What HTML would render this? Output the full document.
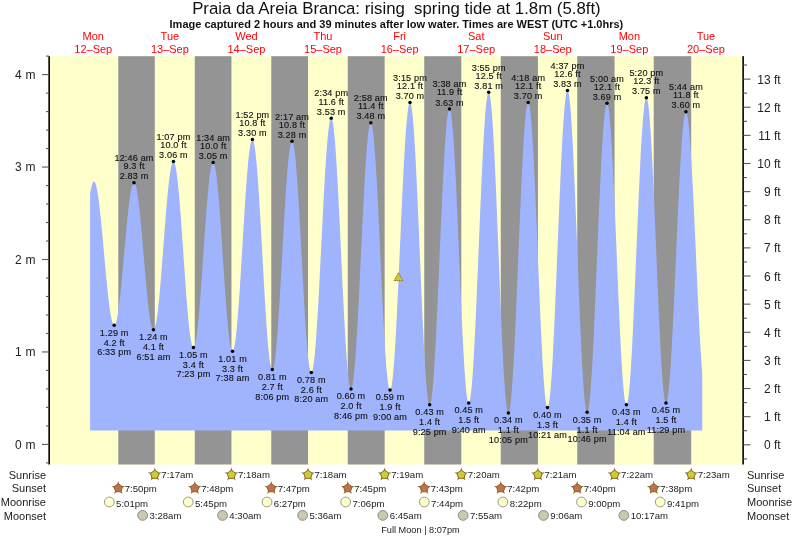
<!DOCTYPE html>
<html><head><meta charset="utf-8"><style>
html,body{margin:0;padding:0;background:#fff;width:793px;height:538px;overflow:hidden;}
svg{display:block;will-change:transform;font-family:"Liberation Sans",sans-serif;}
</style></head><body>
<svg width="793" height="538" viewBox="0 0 793 538" font-family="Liberation Sans, sans-serif">
<rect x="0" y="0" width="793" height="538" fill="#ffffff"/>
<rect x="49.8" y="56.2" width="692.80" height="408.30" fill="#ffffcc"/>
<rect x="118.28" y="56.2" width="36.53" height="408.30" fill="#949494"/>
<rect x="194.76" y="56.2" width="36.69" height="408.30" fill="#949494"/>
<rect x="271.28" y="56.2" width="36.75" height="408.30" fill="#949494"/>
<rect x="347.76" y="56.2" width="36.91" height="408.30" fill="#949494"/>
<rect x="424.23" y="56.2" width="37.07" height="408.30" fill="#949494"/>
<rect x="500.75" y="56.2" width="37.17" height="408.30" fill="#949494"/>
<rect x="577.23" y="56.2" width="37.33" height="408.30" fill="#949494"/>
<rect x="653.70" y="56.2" width="37.49" height="408.30" fill="#949494"/>
<path d="M90.10,430.5 L90.10,194.09 L90.63,190.91 L91.16,188.16 L91.70,185.86 L92.23,184.03 L92.76,182.69 L93.29,181.84 L93.82,181.49 L94.36,181.64 L94.89,182.27 L95.42,183.39 L95.95,184.99 L96.48,187.05 L97.01,189.56 L97.55,192.50 L98.08,195.86 L98.61,199.61 L99.14,203.72 L99.67,208.17 L100.21,212.93 L100.74,217.96 L101.27,223.24 L101.80,228.71 L102.33,234.36 L102.87,240.14 L103.40,246.00 L103.93,251.92 L104.46,257.84 L104.99,263.74 L105.52,269.56 L106.06,275.27 L106.59,280.84 L107.12,286.22 L107.65,291.37 L108.18,296.27 L108.72,300.87 L109.25,305.15 L109.78,309.08 L110.31,312.63 L110.84,315.78 L111.38,318.51 L111.91,320.79 L112.44,322.61 L112.97,323.96 L113.50,324.83 L114.03,325.22 L114.57,325.11 L115.10,324.50 L115.63,323.39 L116.16,321.79 L116.69,319.71 L117.23,317.16 L117.76,314.17 L118.29,310.75 L118.82,306.92 L119.35,302.73 L119.89,298.18 L120.42,293.33 L120.95,288.19 L121.48,282.82 L122.01,277.23 L122.55,271.49 L123.08,265.62 L123.61,259.67 L124.14,253.68 L124.67,247.69 L125.20,241.75 L125.74,235.89 L126.27,230.16 L126.80,224.61 L127.33,219.26 L127.86,214.16 L128.40,209.34 L128.93,204.84 L129.46,200.68 L129.99,196.91 L130.52,193.54 L131.06,190.60 L131.59,188.11 L132.12,186.09 L132.65,184.55 L133.18,183.50 L133.71,182.95 L134.25,182.91 L134.78,183.41 L135.31,184.45 L135.84,186.02 L136.37,188.11 L136.91,190.71 L137.44,193.79 L137.97,197.34 L138.50,201.32 L139.03,205.72 L139.57,210.48 L140.10,215.59 L140.63,221.00 L141.16,226.67 L141.69,232.56 L142.22,238.63 L142.76,244.82 L143.29,251.11 L143.82,257.43 L144.35,263.74 L144.88,270.00 L145.42,276.16 L145.95,282.18 L146.48,288.00 L147.01,293.58 L147.54,298.89 L148.08,303.89 L148.61,308.54 L149.14,312.79 L149.67,316.63 L150.20,320.03 L150.73,322.95 L151.27,325.38 L151.80,327.30 L152.33,328.69 L152.86,329.55 L153.39,329.86 L153.93,329.61 L154.46,328.78 L154.99,327.37 L155.52,325.39 L156.05,322.85 L156.59,319.77 L157.12,316.18 L157.65,312.09 L158.18,307.55 L158.71,302.57 L159.25,297.19 L159.78,291.45 L160.31,285.40 L160.84,279.07 L161.37,272.51 L161.90,265.76 L162.44,258.86 L162.97,251.88 L163.50,244.86 L164.03,237.84 L164.56,230.88 L165.10,224.02 L165.63,217.31 L166.16,210.80 L166.69,204.53 L167.22,198.55 L167.76,192.90 L168.29,187.62 L168.82,182.75 L169.35,178.31 L169.88,174.35 L170.41,170.88 L170.95,167.94 L171.48,165.53 L172.01,163.69 L172.54,162.42 L173.07,161.74 L173.61,161.64 L174.14,162.17 L174.67,163.35 L175.20,165.17 L175.73,167.61 L176.27,170.66 L176.80,174.29 L177.33,178.48 L177.86,183.21 L178.39,188.43 L178.92,194.11 L179.46,200.21 L179.99,206.69 L180.52,213.51 L181.05,220.61 L181.58,227.95 L182.12,235.48 L182.65,243.13 L183.18,250.87 L183.71,258.63 L184.24,266.37 L184.78,274.02 L185.31,281.53 L185.84,288.86 L186.37,295.94 L186.90,302.74 L187.44,309.20 L187.97,315.28 L188.50,320.93 L189.03,326.13 L189.56,330.82 L190.09,334.98 L190.63,338.57 L191.16,341.58 L191.69,343.99 L192.22,345.77 L192.75,346.91 L193.29,347.40 L193.82,347.25 L194.35,346.43 L194.88,344.96 L195.41,342.84 L195.95,340.10 L196.48,336.74 L197.01,332.80 L197.54,328.30 L198.07,323.27 L198.60,317.75 L199.14,311.79 L199.67,305.41 L200.20,298.68 L200.73,291.63 L201.26,284.32 L201.80,276.80 L202.33,269.12 L202.86,261.34 L203.39,253.52 L203.92,245.70 L204.46,237.96 L204.99,230.33 L205.52,222.88 L206.05,215.66 L206.58,208.72 L207.11,202.12 L207.65,195.89 L208.18,190.09 L208.71,184.75 L209.24,179.92 L209.77,175.62 L210.31,171.89 L210.84,168.76 L211.37,166.25 L211.90,164.37 L212.43,163.14 L212.97,162.57 L213.50,162.67 L214.03,163.47 L214.56,164.96 L215.09,167.14 L215.62,169.99 L216.16,173.48 L216.69,177.60 L217.22,182.30 L217.75,187.56 L218.28,193.33 L218.82,199.58 L219.35,206.25 L219.88,213.30 L220.41,220.68 L220.94,228.32 L221.48,236.18 L222.01,244.18 L222.54,252.29 L223.07,260.43 L223.60,268.54 L224.14,276.56 L224.67,284.44 L225.20,292.11 L225.73,299.52 L226.26,306.61 L226.79,313.32 L227.33,319.62 L227.86,325.45 L228.39,330.78 L228.92,335.54 L229.45,339.73 L229.99,343.29 L230.52,346.22 L231.05,348.47 L231.58,350.05 L232.11,350.93 L232.65,351.10 L233.18,350.55 L233.71,349.25 L234.24,347.22 L234.77,344.46 L235.30,341.01 L235.84,336.89 L236.37,332.11 L236.90,326.73 L237.43,320.77 L237.96,314.28 L238.50,307.30 L239.03,299.88 L239.56,292.08 L240.09,283.94 L240.62,275.54 L241.16,266.92 L241.69,258.15 L242.22,249.29 L242.75,240.40 L243.28,231.54 L243.81,222.78 L244.35,214.18 L244.88,205.80 L245.41,197.70 L245.94,189.93 L246.47,182.55 L247.01,175.62 L247.54,169.17 L248.07,163.27 L248.60,157.94 L249.13,153.23 L249.67,149.17 L250.20,145.78 L250.73,143.10 L251.26,141.14 L251.79,139.91 L252.33,139.42 L252.86,139.71 L253.39,140.80 L253.92,142.70 L254.45,145.39 L254.98,148.84 L255.52,153.04 L256.05,157.96 L256.58,163.56 L257.11,169.80 L257.64,176.64 L258.18,184.02 L258.71,191.91 L259.24,200.23 L259.77,208.94 L260.30,217.97 L260.84,227.26 L261.37,236.74 L261.90,246.34 L262.43,256.01 L262.96,265.66 L263.49,275.23 L264.03,284.66 L264.56,293.88 L265.09,302.81 L265.62,311.41 L266.15,319.61 L266.69,327.34 L267.22,334.56 L267.75,341.22 L268.28,347.27 L268.81,352.66 L269.35,357.36 L269.88,361.33 L270.41,364.55 L270.94,367.00 L271.47,368.65 L272.00,369.50 L272.54,369.53 L273.07,368.75 L273.60,367.15 L274.13,364.76 L274.66,361.58 L275.20,357.64 L275.73,352.96 L276.26,347.59 L276.79,341.56 L277.32,334.91 L277.86,327.69 L278.39,319.95 L278.92,311.75 L279.45,303.15 L279.98,294.20 L280.51,284.98 L281.05,275.54 L281.58,265.96 L282.11,256.31 L282.64,246.65 L283.17,237.05 L283.71,227.58 L284.24,218.32 L284.77,209.32 L285.30,200.65 L285.83,192.37 L286.37,184.54 L286.90,177.23 L287.43,170.47 L287.96,164.32 L288.49,158.83 L289.03,154.03 L289.56,149.96 L290.09,146.64 L290.62,144.10 L291.15,142.36 L291.68,141.43 L292.22,141.32 L292.75,142.07 L293.28,143.67 L293.81,146.13 L294.34,149.41 L294.88,153.49 L295.41,158.35 L295.94,163.95 L296.47,170.24 L297.00,177.19 L297.54,184.72 L298.07,192.80 L298.60,201.36 L299.13,210.33 L299.66,219.65 L300.19,229.25 L300.73,239.05 L301.26,248.99 L301.79,258.99 L302.32,268.97 L302.85,278.86 L303.39,288.58 L303.92,298.07 L304.45,307.25 L304.98,316.05 L305.51,324.41 L306.05,332.26 L306.58,339.54 L307.11,346.21 L307.64,352.21 L308.17,357.49 L308.70,362.02 L309.24,365.76 L309.77,368.69 L310.30,370.78 L310.83,372.01 L311.36,372.39 L311.90,371.88 L312.43,370.47 L312.96,368.19 L313.49,365.03 L314.02,361.04 L314.56,356.22 L315.09,350.62 L315.62,344.28 L316.15,337.24 L316.68,329.55 L317.22,321.27 L317.75,312.45 L318.28,303.16 L318.81,293.46 L319.34,283.42 L319.87,273.11 L320.41,262.60 L320.94,251.97 L321.47,241.30 L322.00,230.65 L322.53,220.11 L323.07,209.74 L323.60,199.62 L324.13,189.83 L324.66,180.42 L325.19,171.48 L325.73,163.05 L326.26,155.21 L326.79,148.00 L327.32,141.47 L327.85,135.68 L328.38,130.66 L328.92,126.45 L329.45,123.08 L329.98,120.57 L330.51,118.94 L331.04,118.20 L331.58,118.37 L332.11,119.50 L332.64,121.59 L333.17,124.62 L333.70,128.57 L334.24,133.42 L334.77,139.11 L335.30,145.63 L335.83,152.91 L336.36,160.91 L336.89,169.58 L337.43,178.84 L337.96,188.63 L338.49,198.89 L339.02,209.54 L339.55,220.50 L340.09,231.70 L340.62,243.05 L341.15,254.48 L341.68,265.91 L342.21,277.24 L342.75,288.41 L343.28,299.33 L343.81,309.92 L344.34,320.11 L344.87,329.82 L345.40,339.00 L345.94,347.56 L346.47,355.45 L347.00,362.62 L347.53,369.01 L348.06,374.58 L348.60,379.28 L349.13,383.09 L349.66,385.98 L350.19,387.92 L350.72,388.90 L351.26,388.92 L351.79,387.99 L352.32,386.12 L352.85,383.32 L353.38,379.61 L353.92,375.02 L354.45,369.58 L354.98,363.33 L355.51,356.31 L356.04,348.58 L356.57,340.18 L357.11,331.19 L357.64,321.66 L358.17,311.66 L358.70,301.26 L359.23,290.54 L359.77,279.57 L360.30,268.43 L360.83,257.21 L361.36,245.97 L361.89,234.81 L362.43,223.79 L362.96,213.01 L363.49,202.53 L364.02,192.43 L364.55,182.78 L365.08,173.66 L365.62,165.12 L366.15,157.23 L366.68,150.04 L367.21,143.61 L367.74,137.98 L368.28,133.18 L368.81,129.27 L369.34,126.25 L369.87,124.17 L370.40,123.02 L370.94,122.82 L371.47,123.61 L372.00,125.40 L372.53,128.17 L373.06,131.92 L373.59,136.59 L374.13,142.18 L374.66,148.62 L375.19,155.87 L375.72,163.88 L376.25,172.58 L376.79,181.92 L377.32,191.81 L377.85,202.19 L378.38,212.98 L378.91,224.10 L379.45,235.46 L379.98,246.98 L380.51,258.57 L381.04,270.14 L381.57,281.60 L382.11,292.88 L382.64,303.88 L383.17,314.53 L383.70,324.73 L384.23,334.43 L384.76,343.53 L385.30,351.98 L385.83,359.71 L386.36,366.66 L386.89,372.78 L387.42,378.02 L387.96,382.35 L388.49,385.72 L389.02,388.13 L389.55,389.54 L390.08,389.95 L390.62,389.35 L391.15,387.75 L391.68,385.15 L392.21,381.58 L392.74,377.06 L393.27,371.62 L393.81,365.31 L394.34,358.15 L394.87,350.21 L395.40,341.54 L395.93,332.20 L396.47,322.26 L397.00,311.78 L397.53,300.85 L398.06,289.53 L398.59,277.90 L399.13,266.06 L399.66,254.07 L400.19,242.03 L400.72,230.02 L401.25,218.12 L401.78,206.42 L402.32,195.00 L402.85,183.93 L403.38,173.31 L403.91,163.19 L404.44,153.66 L404.98,144.78 L405.51,136.61 L406.04,129.20 L406.57,122.62 L407.10,116.91 L407.64,112.10 L408.17,108.23 L408.70,105.33 L409.23,103.42 L409.76,102.52 L410.29,102.63 L410.83,103.83 L411.36,106.10 L411.89,109.44 L412.42,113.82 L412.95,119.20 L413.49,125.55 L414.02,132.83 L414.55,140.98 L415.08,149.93 L415.61,159.64 L416.15,170.02 L416.68,181.00 L417.21,192.51 L417.74,204.46 L418.27,216.76 L418.81,229.33 L419.34,242.07 L419.87,254.90 L420.40,267.71 L420.93,280.43 L421.46,292.95 L422.00,305.18 L422.53,317.05 L423.06,328.46 L423.59,339.32 L424.12,349.57 L424.66,359.13 L425.19,367.93 L425.72,375.90 L426.25,383.00 L426.78,389.16 L427.32,394.34 L427.85,398.51 L428.38,401.63 L428.91,403.69 L429.44,404.66 L429.97,404.55 L430.51,403.40 L431.04,401.20 L431.57,397.98 L432.10,393.76 L432.63,388.56 L433.17,382.44 L433.70,375.42 L434.23,367.56 L434.76,358.92 L435.29,349.55 L435.83,339.52 L436.36,328.91 L436.89,317.78 L437.42,306.23 L437.95,294.32 L438.48,282.15 L439.02,269.80 L439.55,257.35 L440.08,244.91 L440.61,232.54 L441.14,220.35 L441.68,208.42 L442.21,196.83 L442.74,185.67 L443.27,175.01 L443.80,164.93 L444.34,155.50 L444.87,146.80 L445.40,138.87 L445.93,131.78 L446.46,125.57 L447.00,120.30 L447.53,115.99 L448.06,112.69 L448.59,110.40 L449.12,109.16 L449.65,108.96 L450.19,109.86 L450.72,111.85 L451.25,114.93 L451.78,119.08 L452.31,124.25 L452.85,130.41 L453.38,137.52 L453.91,145.52 L454.44,154.35 L454.97,163.95 L455.51,174.24 L456.04,185.14 L456.57,196.57 L457.10,208.46 L457.63,220.70 L458.16,233.20 L458.70,245.88 L459.23,258.63 L459.76,271.36 L460.29,283.97 L460.82,296.37 L461.36,308.47 L461.89,320.17 L462.42,331.39 L462.95,342.04 L463.48,352.04 L464.02,361.32 L464.55,369.81 L465.08,377.43 L465.61,384.14 L466.14,389.89 L466.67,394.63 L467.21,398.32 L467.74,400.94 L468.27,402.47 L468.80,402.89 L469.33,402.22 L469.87,400.46 L470.40,397.63 L470.93,393.75 L471.46,388.84 L471.99,382.94 L472.53,376.09 L473.06,368.34 L473.59,359.75 L474.12,350.36 L474.65,340.26 L475.18,329.50 L475.72,318.17 L476.25,306.34 L476.78,294.10 L477.31,281.54 L477.84,268.73 L478.38,255.78 L478.91,242.77 L479.44,229.80 L479.97,216.95 L480.50,204.31 L481.04,191.98 L481.57,180.04 L482.10,168.57 L482.63,157.66 L483.16,147.37 L483.70,137.79 L484.23,128.98 L484.76,121.01 L485.29,113.92 L485.82,107.77 L486.35,102.60 L486.89,98.44 L487.42,95.34 L487.95,93.30 L488.48,92.34 L489.01,92.49 L489.55,93.79 L490.08,96.23 L490.61,99.80 L491.14,104.47 L491.67,110.20 L492.21,116.97 L492.74,124.71 L493.27,133.38 L493.80,142.90 L494.33,153.22 L494.86,164.25 L495.40,175.92 L495.93,188.15 L496.46,200.84 L496.99,213.90 L497.52,227.24 L498.06,240.76 L498.59,254.37 L499.12,267.97 L499.65,281.46 L500.18,294.74 L500.72,307.72 L501.25,320.30 L501.78,332.39 L502.31,343.91 L502.84,354.77 L503.37,364.90 L503.91,374.21 L504.44,382.65 L504.97,390.15 L505.50,396.67 L506.03,402.14 L506.57,406.54 L507.10,409.82 L507.63,411.98 L508.16,412.99 L508.69,412.85 L509.23,411.61 L509.76,409.28 L510.29,405.87 L510.82,401.41 L511.35,395.93 L511.89,389.48 L512.42,382.09 L512.95,373.81 L513.48,364.72 L514.01,354.87 L514.54,344.32 L515.08,333.17 L515.61,321.47 L516.14,309.33 L516.67,296.82 L517.20,284.03 L517.74,271.06 L518.27,257.99 L518.80,244.93 L519.33,231.95 L519.86,219.15 L520.40,206.63 L520.93,194.47 L521.46,182.76 L521.99,171.58 L522.52,161.02 L523.05,151.14 L523.59,142.01 L524.12,133.71 L524.65,126.28 L525.18,119.79 L525.71,114.28 L526.25,109.78 L526.78,106.33 L527.31,103.96 L527.84,102.68 L528.37,102.50 L528.91,103.45 L529.44,105.54 L529.97,108.74 L530.50,113.05 L531.03,118.41 L531.56,124.80 L532.10,132.16 L532.63,140.44 L533.16,149.58 L533.69,159.50 L534.22,170.15 L534.76,181.42 L535.29,193.25 L535.82,205.54 L536.35,218.20 L536.88,231.14 L537.42,244.26 L537.95,257.45 L538.48,270.63 L539.01,283.69 L539.54,296.53 L540.07,309.06 L540.61,321.19 L541.14,332.82 L541.67,343.87 L542.20,354.26 L542.73,363.90 L543.27,372.72 L543.80,380.67 L544.33,387.67 L544.86,393.68 L545.39,398.65 L545.93,402.54 L546.46,405.33 L546.99,406.99 L547.52,407.52 L548.05,406.92 L548.59,405.22 L549.12,402.43 L549.65,398.57 L550.18,393.66 L550.71,387.75 L551.24,380.86 L551.78,373.06 L552.31,364.39 L552.84,354.91 L553.37,344.69 L553.90,333.81 L554.44,322.33 L554.97,310.35 L555.50,297.93 L556.03,285.17 L556.56,272.16 L557.10,258.99 L557.63,245.75 L558.16,232.53 L558.69,219.42 L559.22,206.52 L559.75,193.92 L560.29,181.70 L560.82,169.95 L561.35,158.75 L561.88,148.18 L562.41,138.32 L562.95,129.23 L563.48,120.97 L564.01,113.61 L564.54,107.19 L565.07,101.76 L565.61,97.36 L566.14,94.01 L566.67,91.75 L567.20,90.59 L567.73,90.53 L568.26,91.63 L568.80,93.89 L569.33,97.29 L569.86,101.81 L570.39,107.41 L570.92,114.05 L571.46,121.68 L571.99,130.26 L572.52,139.71 L573.05,149.97 L573.58,160.96 L574.12,172.61 L574.65,184.83 L575.18,197.53 L575.71,210.62 L576.24,224.01 L576.78,237.59 L577.31,251.27 L577.84,264.95 L578.37,278.53 L578.90,291.92 L579.43,305.01 L579.97,317.71 L580.50,329.93 L581.03,341.58 L581.56,352.57 L582.09,362.83 L582.63,372.29 L583.16,380.86 L583.69,388.50 L584.22,395.14 L584.75,400.74 L585.29,405.26 L585.82,408.66 L586.35,410.92 L586.88,412.03 L587.41,411.98 L587.94,410.83 L588.48,408.61 L589.01,405.32 L589.54,400.99 L590.07,395.65 L590.60,389.34 L591.14,382.09 L591.67,373.98 L592.20,365.04 L592.73,355.34 L593.26,344.96 L593.80,333.96 L594.33,322.43 L594.86,310.43 L595.39,298.07 L595.92,285.42 L596.45,272.58 L596.99,259.63 L597.52,246.67 L598.05,233.79 L598.58,221.07 L599.11,208.62 L599.65,196.51 L600.18,184.83 L600.71,173.67 L601.24,163.10 L601.77,153.20 L602.31,144.03 L602.84,135.67 L603.37,128.17 L603.90,121.58 L604.43,115.96 L604.96,111.33 L605.50,107.74 L606.03,105.20 L606.56,103.75 L607.09,103.37 L607.62,104.11 L608.16,105.97 L608.69,108.92 L609.22,112.96 L609.75,118.05 L610.28,124.15 L610.82,131.22 L611.35,139.21 L611.88,148.05 L612.41,157.68 L612.94,168.02 L613.48,179.01 L614.01,190.55 L614.54,202.57 L615.07,214.97 L615.60,227.67 L616.13,240.56 L616.67,253.55 L617.20,266.54 L617.73,279.44 L618.26,292.15 L618.79,304.58 L619.33,316.63 L619.86,328.22 L620.39,339.25 L620.92,349.65 L621.45,359.34 L621.99,368.24 L622.52,376.29 L623.05,383.44 L623.58,389.61 L624.11,394.78 L624.64,398.91 L625.18,401.95 L625.71,403.89 L626.24,404.72 L626.77,404.43 L627.30,403.08 L627.84,400.67 L628.37,397.22 L628.90,392.74 L629.43,387.28 L629.96,380.88 L630.50,373.56 L631.03,365.40 L631.56,356.43 L632.09,346.74 L632.62,336.37 L633.15,325.41 L633.69,313.94 L634.22,302.03 L634.75,289.76 L635.28,277.23 L635.81,264.51 L636.35,251.70 L636.88,238.89 L637.41,226.17 L637.94,213.62 L638.47,201.33 L639.01,189.39 L639.54,177.89 L640.07,166.89 L640.60,156.49 L641.13,146.74 L641.67,137.73 L642.20,129.51 L642.73,122.14 L643.26,115.67 L643.79,110.14 L644.32,105.61 L644.86,102.08 L645.39,99.60 L645.92,98.18 L646.45,97.83 L646.98,98.57 L647.52,100.41 L648.05,103.34 L648.58,107.33 L649.11,112.36 L649.64,118.39 L650.18,125.37 L650.71,133.26 L651.24,142.00 L651.77,151.53 L652.30,161.77 L652.83,172.65 L653.37,184.09 L653.90,196.02 L654.43,208.34 L654.96,220.96 L655.49,233.80 L656.03,246.76 L656.56,259.74 L657.09,272.66 L657.62,285.41 L658.15,297.91 L658.69,310.06 L659.22,321.78 L659.75,332.99 L660.28,343.60 L660.81,353.53 L661.34,362.71 L661.88,371.08 L662.41,378.57 L662.94,385.13 L663.47,390.72 L664.00,395.29 L664.54,398.81 L665.07,401.26 L665.60,402.61 L666.13,402.86 L666.66,402.07 L667.20,400.26 L667.73,397.45 L668.26,393.65 L668.79,388.90 L669.32,383.22 L669.85,376.67 L670.39,369.27 L670.92,361.09 L671.45,352.18 L671.98,342.60 L672.51,332.43 L673.05,321.72 L673.58,310.57 L674.11,299.04 L674.64,287.22 L675.17,275.19 L675.71,263.03 L676.24,250.84 L676.77,238.69 L677.30,226.66 L677.83,214.86 L678.37,203.35 L678.90,192.22 L679.43,181.55 L679.96,171.40 L680.49,161.87 L681.02,153.00 L681.56,144.86 L682.09,137.51 L682.62,131.00 L683.15,125.38 L683.68,120.68 L684.22,116.94 L684.75,114.19 L685.28,112.44 L685.81,111.70 L686.34,111.98 L686.88,113.26 L687.41,115.51 L687.94,118.73 L688.47,122.90 L689.00,127.98 L689.53,133.94 L690.07,140.74 L690.60,148.33 L691.13,156.66 L691.66,165.67 L692.19,175.29 L692.73,185.46 L693.26,196.12 L693.79,207.18 L694.32,218.56 L694.85,230.19 L695.39,241.99 L695.92,253.87 L696.45,265.76 L696.98,277.56 L697.51,289.20 L698.04,300.59 L698.58,311.66 L699.11,322.33 L699.64,332.52 L700.17,342.16 L700.70,351.19 L701.24,359.54 L701.77,367.15 L702.30,373.97 L702.30,430.5Z" fill="#a0b4fe"/>
<rect x="48.3" y="56.2" width="1.7" height="408.30" fill="#111"/>
<rect x="742.3" y="56.2" width="1.7" height="408.30" fill="#111"/>
<rect x="46" y="462.34" width="3" height="1.1" fill="#5a5a5a"/>
<rect x="42" y="443.85" width="7" height="1.1" fill="#5a5a5a"/>
<text x="35.5" y="448.70" font-size="12" text-anchor="end" fill="#222" word-spacing="0.4">0 m</text>
<rect x="46" y="425.36" width="3" height="1.1" fill="#5a5a5a"/>
<rect x="46" y="406.87" width="3" height="1.1" fill="#5a5a5a"/>
<rect x="46" y="388.38" width="3" height="1.1" fill="#5a5a5a"/>
<rect x="46" y="369.89" width="3" height="1.1" fill="#5a5a5a"/>
<rect x="42" y="351.40" width="7" height="1.1" fill="#5a5a5a"/>
<text x="35.5" y="356.25" font-size="12" text-anchor="end" fill="#222" word-spacing="0.4">1 m</text>
<rect x="46" y="332.91" width="3" height="1.1" fill="#5a5a5a"/>
<rect x="46" y="314.42" width="3" height="1.1" fill="#5a5a5a"/>
<rect x="46" y="295.93" width="3" height="1.1" fill="#5a5a5a"/>
<rect x="46" y="277.44" width="3" height="1.1" fill="#5a5a5a"/>
<rect x="42" y="258.95" width="7" height="1.1" fill="#5a5a5a"/>
<text x="35.5" y="263.80" font-size="12" text-anchor="end" fill="#222" word-spacing="0.4">2 m</text>
<rect x="46" y="240.46" width="3" height="1.1" fill="#5a5a5a"/>
<rect x="46" y="221.97" width="3" height="1.1" fill="#5a5a5a"/>
<rect x="46" y="203.48" width="3" height="1.1" fill="#5a5a5a"/>
<rect x="46" y="184.99" width="3" height="1.1" fill="#5a5a5a"/>
<rect x="42" y="166.50" width="7" height="1.1" fill="#5a5a5a"/>
<text x="35.5" y="171.35" font-size="12" text-anchor="end" fill="#222" word-spacing="0.4">3 m</text>
<rect x="46" y="148.01" width="3" height="1.1" fill="#5a5a5a"/>
<rect x="46" y="129.52" width="3" height="1.1" fill="#5a5a5a"/>
<rect x="46" y="111.03" width="3" height="1.1" fill="#5a5a5a"/>
<rect x="46" y="92.54" width="3" height="1.1" fill="#5a5a5a"/>
<rect x="42" y="74.05" width="7" height="1.1" fill="#5a5a5a"/>
<text x="35.5" y="78.90" font-size="12" text-anchor="end" fill="#222" word-spacing="0.4">4 m</text>
<rect x="46" y="55.56" width="3" height="1.1" fill="#5a5a5a"/>
<rect x="743.5" y="458.31" width="3.5" height="1.1" fill="#5a5a5a"/>
<rect x="743.5" y="444.25" width="7" height="1.1" fill="#5a5a5a"/>
<text x="780.6" y="449.40" font-size="12" text-anchor="end" fill="#222" word-spacing="0">0 ft</text>
<rect x="743.5" y="430.19" width="3.5" height="1.1" fill="#5a5a5a"/>
<rect x="743.5" y="416.12" width="7" height="1.1" fill="#5a5a5a"/>
<text x="780.6" y="421.27" font-size="12" text-anchor="end" fill="#222" word-spacing="0">1 ft</text>
<rect x="743.5" y="402.06" width="3.5" height="1.1" fill="#5a5a5a"/>
<rect x="743.5" y="387.99" width="7" height="1.1" fill="#5a5a5a"/>
<text x="780.6" y="393.14" font-size="12" text-anchor="end" fill="#222" word-spacing="0">2 ft</text>
<rect x="743.5" y="373.93" width="3.5" height="1.1" fill="#5a5a5a"/>
<rect x="743.5" y="359.86" width="7" height="1.1" fill="#5a5a5a"/>
<text x="780.6" y="365.01" font-size="12" text-anchor="end" fill="#222" word-spacing="0">3 ft</text>
<rect x="743.5" y="345.80" width="3.5" height="1.1" fill="#5a5a5a"/>
<rect x="743.5" y="331.73" width="7" height="1.1" fill="#5a5a5a"/>
<text x="780.6" y="336.88" font-size="12" text-anchor="end" fill="#222" word-spacing="0">4 ft</text>
<rect x="743.5" y="317.67" width="3.5" height="1.1" fill="#5a5a5a"/>
<rect x="743.5" y="303.60" width="7" height="1.1" fill="#5a5a5a"/>
<text x="780.6" y="308.75" font-size="12" text-anchor="end" fill="#222" word-spacing="0">5 ft</text>
<rect x="743.5" y="289.53" width="3.5" height="1.1" fill="#5a5a5a"/>
<rect x="743.5" y="275.47" width="7" height="1.1" fill="#5a5a5a"/>
<text x="780.6" y="280.62" font-size="12" text-anchor="end" fill="#222" word-spacing="0">6 ft</text>
<rect x="743.5" y="261.40" width="3.5" height="1.1" fill="#5a5a5a"/>
<rect x="743.5" y="247.34" width="7" height="1.1" fill="#5a5a5a"/>
<text x="780.6" y="252.49" font-size="12" text-anchor="end" fill="#222" word-spacing="0">7 ft</text>
<rect x="743.5" y="233.27" width="3.5" height="1.1" fill="#5a5a5a"/>
<rect x="743.5" y="219.21" width="7" height="1.1" fill="#5a5a5a"/>
<text x="780.6" y="224.36" font-size="12" text-anchor="end" fill="#222" word-spacing="0">8 ft</text>
<rect x="743.5" y="205.14" width="3.5" height="1.1" fill="#5a5a5a"/>
<rect x="743.5" y="191.08" width="7" height="1.1" fill="#5a5a5a"/>
<text x="780.6" y="196.23" font-size="12" text-anchor="end" fill="#222" word-spacing="0">9 ft</text>
<rect x="743.5" y="177.01" width="3.5" height="1.1" fill="#5a5a5a"/>
<rect x="743.5" y="162.95" width="7" height="1.1" fill="#5a5a5a"/>
<text x="780.6" y="168.10" font-size="12" text-anchor="end" fill="#222" word-spacing="0">10 ft</text>
<rect x="743.5" y="148.88" width="3.5" height="1.1" fill="#5a5a5a"/>
<rect x="743.5" y="134.82" width="7" height="1.1" fill="#5a5a5a"/>
<text x="780.6" y="139.97" font-size="12" text-anchor="end" fill="#222" word-spacing="0">11 ft</text>
<rect x="743.5" y="120.75" width="3.5" height="1.1" fill="#5a5a5a"/>
<rect x="743.5" y="106.69" width="7" height="1.1" fill="#5a5a5a"/>
<text x="780.6" y="111.84" font-size="12" text-anchor="end" fill="#222" word-spacing="0">12 ft</text>
<rect x="743.5" y="92.62" width="3.5" height="1.1" fill="#5a5a5a"/>
<rect x="743.5" y="78.56" width="7" height="1.1" fill="#5a5a5a"/>
<text x="780.6" y="83.71" font-size="12" text-anchor="end" fill="#222" word-spacing="0">13 ft</text>
<rect x="743.5" y="64.49" width="3.5" height="1.1" fill="#5a5a5a"/>
<text x="396.4" y="13.5" font-size="16.8" text-anchor="middle" fill="#111" xml:space="preserve" style="white-space:pre">Praia da Areia Branca: rising  spring tide at 1.8m (5.8ft)</text>
<text x="396.4" y="27.6" font-size="11" font-weight="bold" text-anchor="middle" fill="#111">Image captured 2 hours and 39 minutes after low water. Times are WEST (UTC +1.0hrs)</text>
<text x="93.29" y="39.6" font-size="11" text-anchor="middle" fill="#ff0000">Mon</text>
<text x="93.29" y="53" font-size="11" text-anchor="middle" fill="#ff0000">12–Sep</text>
<text x="169.87" y="39.6" font-size="11" text-anchor="middle" fill="#ff0000">Tue</text>
<text x="169.87" y="53" font-size="11" text-anchor="middle" fill="#ff0000">13–Sep</text>
<text x="246.45" y="39.6" font-size="11" text-anchor="middle" fill="#ff0000">Wed</text>
<text x="246.45" y="53" font-size="11" text-anchor="middle" fill="#ff0000">14–Sep</text>
<text x="323.03" y="39.6" font-size="11" text-anchor="middle" fill="#ff0000">Thu</text>
<text x="323.03" y="53" font-size="11" text-anchor="middle" fill="#ff0000">15–Sep</text>
<text x="399.61" y="39.6" font-size="11" text-anchor="middle" fill="#ff0000">Fri</text>
<text x="399.61" y="53" font-size="11" text-anchor="middle" fill="#ff0000">16–Sep</text>
<text x="476.19" y="39.6" font-size="11" text-anchor="middle" fill="#ff0000">Sat</text>
<text x="476.19" y="53" font-size="11" text-anchor="middle" fill="#ff0000">17–Sep</text>
<text x="552.76" y="39.6" font-size="11" text-anchor="middle" fill="#ff0000">Sun</text>
<text x="552.76" y="53" font-size="11" text-anchor="middle" fill="#ff0000">18–Sep</text>
<text x="629.34" y="39.6" font-size="11" text-anchor="middle" fill="#ff0000">Mon</text>
<text x="629.34" y="53" font-size="11" text-anchor="middle" fill="#ff0000">19–Sep</text>
<text x="705.92" y="39.6" font-size="11" text-anchor="middle" fill="#ff0000">Tue</text>
<text x="705.92" y="53" font-size="11" text-anchor="middle" fill="#ff0000">20–Sep</text>
<circle cx="114.19" cy="325.24" r="1.75" fill="#000"/>
<text x="114.19" y="335.64" font-size="9.1" text-anchor="middle" fill="#111" stroke="#111" stroke-width="0.12" letter-spacing="0.15">1.29 m</text>
<text x="114.19" y="345.64" font-size="9.1" text-anchor="middle" fill="#111" stroke="#111" stroke-width="0.12" letter-spacing="0.15">4.2 ft</text>
<text x="114.19" y="355.24" font-size="9.1" text-anchor="middle" fill="#111" stroke="#111" stroke-width="0.12" letter-spacing="0.15">6:33 pm</text>
<circle cx="134.03" cy="182.87" r="1.75" fill="#000"/>
<text x="134.03" y="179.47" font-size="9.1" text-anchor="middle" fill="#111" stroke="#111" stroke-width="0.12" letter-spacing="0.15">2.83 m</text>
<text x="134.03" y="169.27" font-size="9.1" text-anchor="middle" fill="#111" stroke="#111" stroke-width="0.12" letter-spacing="0.15">9.3 ft</text>
<text x="134.03" y="161.17" font-size="9.1" text-anchor="middle" fill="#111" stroke="#111" stroke-width="0.12" letter-spacing="0.15">12:46 am</text>
<circle cx="153.44" cy="329.86" r="1.75" fill="#000"/>
<text x="153.44" y="340.26" font-size="9.1" text-anchor="middle" fill="#111" stroke="#111" stroke-width="0.12" letter-spacing="0.15">1.24 m</text>
<text x="153.44" y="350.26" font-size="9.1" text-anchor="middle" fill="#111" stroke="#111" stroke-width="0.12" letter-spacing="0.15">4.1 ft</text>
<text x="153.44" y="359.86" font-size="9.1" text-anchor="middle" fill="#111" stroke="#111" stroke-width="0.12" letter-spacing="0.15">6:51 am</text>
<circle cx="173.43" cy="161.60" r="1.75" fill="#000"/>
<text x="173.43" y="158.20" font-size="9.1" text-anchor="middle" fill="#111" stroke="#111" stroke-width="0.12" letter-spacing="0.15">3.06 m</text>
<text x="173.43" y="148.00" font-size="9.1" text-anchor="middle" fill="#111" stroke="#111" stroke-width="0.12" letter-spacing="0.15">10.0 ft</text>
<text x="173.43" y="139.90" font-size="9.1" text-anchor="middle" fill="#111" stroke="#111" stroke-width="0.12" letter-spacing="0.15">1:07 pm</text>
<circle cx="193.43" cy="347.43" r="1.75" fill="#000"/>
<text x="193.43" y="357.83" font-size="9.1" text-anchor="middle" fill="#111" stroke="#111" stroke-width="0.12" letter-spacing="0.15">1.05 m</text>
<text x="193.43" y="367.83" font-size="9.1" text-anchor="middle" fill="#111" stroke="#111" stroke-width="0.12" letter-spacing="0.15">3.4 ft</text>
<text x="193.43" y="377.43" font-size="9.1" text-anchor="middle" fill="#111" stroke="#111" stroke-width="0.12" letter-spacing="0.15">7:23 pm</text>
<circle cx="213.16" cy="162.53" r="1.75" fill="#000"/>
<text x="213.16" y="159.13" font-size="9.1" text-anchor="middle" fill="#111" stroke="#111" stroke-width="0.12" letter-spacing="0.15">3.05 m</text>
<text x="213.16" y="148.93" font-size="9.1" text-anchor="middle" fill="#111" stroke="#111" stroke-width="0.12" letter-spacing="0.15">10.0 ft</text>
<text x="213.16" y="140.83" font-size="9.1" text-anchor="middle" fill="#111" stroke="#111" stroke-width="0.12" letter-spacing="0.15">1:34 am</text>
<circle cx="232.51" cy="351.13" r="1.75" fill="#000"/>
<text x="232.51" y="361.53" font-size="9.1" text-anchor="middle" fill="#111" stroke="#111" stroke-width="0.12" letter-spacing="0.15">1.01 m</text>
<text x="232.51" y="371.53" font-size="9.1" text-anchor="middle" fill="#111" stroke="#111" stroke-width="0.12" letter-spacing="0.15">3.3 ft</text>
<text x="232.51" y="381.13" font-size="9.1" text-anchor="middle" fill="#111" stroke="#111" stroke-width="0.12" letter-spacing="0.15">7:38 am</text>
<circle cx="252.40" cy="139.42" r="1.75" fill="#000"/>
<text x="252.40" y="136.02" font-size="9.1" text-anchor="middle" fill="#111" stroke="#111" stroke-width="0.12" letter-spacing="0.15">3.30 m</text>
<text x="252.40" y="125.82" font-size="9.1" text-anchor="middle" fill="#111" stroke="#111" stroke-width="0.12" letter-spacing="0.15">10.8 ft</text>
<text x="252.40" y="117.72" font-size="9.1" text-anchor="middle" fill="#111" stroke="#111" stroke-width="0.12" letter-spacing="0.15">1:52 pm</text>
<circle cx="272.29" cy="369.62" r="1.75" fill="#000"/>
<text x="272.29" y="380.02" font-size="9.1" text-anchor="middle" fill="#111" stroke="#111" stroke-width="0.12" letter-spacing="0.15">0.81 m</text>
<text x="272.29" y="390.02" font-size="9.1" text-anchor="middle" fill="#111" stroke="#111" stroke-width="0.12" letter-spacing="0.15">2.7 ft</text>
<text x="272.29" y="399.62" font-size="9.1" text-anchor="middle" fill="#111" stroke="#111" stroke-width="0.12" letter-spacing="0.15">8:06 pm</text>
<circle cx="292.02" cy="141.26" r="1.75" fill="#000"/>
<text x="292.02" y="137.86" font-size="9.1" text-anchor="middle" fill="#111" stroke="#111" stroke-width="0.12" letter-spacing="0.15">3.28 m</text>
<text x="292.02" y="127.66" font-size="9.1" text-anchor="middle" fill="#111" stroke="#111" stroke-width="0.12" letter-spacing="0.15">10.8 ft</text>
<text x="292.02" y="119.56" font-size="9.1" text-anchor="middle" fill="#111" stroke="#111" stroke-width="0.12" letter-spacing="0.15">2:17 am</text>
<circle cx="311.33" cy="372.39" r="1.75" fill="#000"/>
<text x="311.33" y="382.79" font-size="9.1" text-anchor="middle" fill="#111" stroke="#111" stroke-width="0.12" letter-spacing="0.15">0.78 m</text>
<text x="311.33" y="392.79" font-size="9.1" text-anchor="middle" fill="#111" stroke="#111" stroke-width="0.12" letter-spacing="0.15">2.6 ft</text>
<text x="311.33" y="402.39" font-size="9.1" text-anchor="middle" fill="#111" stroke="#111" stroke-width="0.12" letter-spacing="0.15">8:20 am</text>
<circle cx="331.22" cy="118.15" r="1.75" fill="#000"/>
<text x="331.22" y="114.75" font-size="9.1" text-anchor="middle" fill="#111" stroke="#111" stroke-width="0.12" letter-spacing="0.15">3.53 m</text>
<text x="331.22" y="104.55" font-size="9.1" text-anchor="middle" fill="#111" stroke="#111" stroke-width="0.12" letter-spacing="0.15">11.6 ft</text>
<text x="331.22" y="96.45" font-size="9.1" text-anchor="middle" fill="#111" stroke="#111" stroke-width="0.12" letter-spacing="0.15">2:34 pm</text>
<circle cx="351.00" cy="389.03" r="1.75" fill="#000"/>
<text x="351.00" y="399.43" font-size="9.1" text-anchor="middle" fill="#111" stroke="#111" stroke-width="0.12" letter-spacing="0.15">0.60 m</text>
<text x="351.00" y="409.43" font-size="9.1" text-anchor="middle" fill="#111" stroke="#111" stroke-width="0.12" letter-spacing="0.15">2.0 ft</text>
<text x="351.00" y="419.03" font-size="9.1" text-anchor="middle" fill="#111" stroke="#111" stroke-width="0.12" letter-spacing="0.15">8:46 pm</text>
<circle cx="370.78" cy="122.77" r="1.75" fill="#000"/>
<text x="370.78" y="119.37" font-size="9.1" text-anchor="middle" fill="#111" stroke="#111" stroke-width="0.12" letter-spacing="0.15">3.48 m</text>
<text x="370.78" y="109.17" font-size="9.1" text-anchor="middle" fill="#111" stroke="#111" stroke-width="0.12" letter-spacing="0.15">11.4 ft</text>
<text x="370.78" y="101.07" font-size="9.1" text-anchor="middle" fill="#111" stroke="#111" stroke-width="0.12" letter-spacing="0.15">2:58 am</text>
<circle cx="390.03" cy="389.95" r="1.75" fill="#000"/>
<text x="390.03" y="400.35" font-size="9.1" text-anchor="middle" fill="#111" stroke="#111" stroke-width="0.12" letter-spacing="0.15">0.59 m</text>
<text x="390.03" y="410.35" font-size="9.1" text-anchor="middle" fill="#111" stroke="#111" stroke-width="0.12" letter-spacing="0.15">1.9 ft</text>
<text x="390.03" y="419.95" font-size="9.1" text-anchor="middle" fill="#111" stroke="#111" stroke-width="0.12" letter-spacing="0.15">9:00 am</text>
<circle cx="409.98" cy="102.43" r="1.75" fill="#000"/>
<text x="409.98" y="99.03" font-size="9.1" text-anchor="middle" fill="#111" stroke="#111" stroke-width="0.12" letter-spacing="0.15">3.70 m</text>
<text x="409.98" y="88.83" font-size="9.1" text-anchor="middle" fill="#111" stroke="#111" stroke-width="0.12" letter-spacing="0.15">12.1 ft</text>
<text x="409.98" y="80.73" font-size="9.1" text-anchor="middle" fill="#111" stroke="#111" stroke-width="0.12" letter-spacing="0.15">3:15 pm</text>
<circle cx="429.65" cy="404.75" r="1.75" fill="#000"/>
<text x="429.65" y="415.15" font-size="9.1" text-anchor="middle" fill="#111" stroke="#111" stroke-width="0.12" letter-spacing="0.15">0.43 m</text>
<text x="429.65" y="425.15" font-size="9.1" text-anchor="middle" fill="#111" stroke="#111" stroke-width="0.12" letter-spacing="0.15">1.4 ft</text>
<text x="429.65" y="434.75" font-size="9.1" text-anchor="middle" fill="#111" stroke="#111" stroke-width="0.12" letter-spacing="0.15">9:25 pm</text>
<circle cx="449.49" cy="108.91" r="1.75" fill="#000"/>
<text x="449.49" y="105.51" font-size="9.1" text-anchor="middle" fill="#111" stroke="#111" stroke-width="0.12" letter-spacing="0.15">3.63 m</text>
<text x="449.49" y="95.31" font-size="9.1" text-anchor="middle" fill="#111" stroke="#111" stroke-width="0.12" letter-spacing="0.15">11.9 ft</text>
<text x="449.49" y="87.21" font-size="9.1" text-anchor="middle" fill="#111" stroke="#111" stroke-width="0.12" letter-spacing="0.15">3:38 am</text>
<circle cx="468.74" cy="402.90" r="1.75" fill="#000"/>
<text x="468.74" y="413.30" font-size="9.1" text-anchor="middle" fill="#111" stroke="#111" stroke-width="0.12" letter-spacing="0.15">0.45 m</text>
<text x="468.74" y="423.30" font-size="9.1" text-anchor="middle" fill="#111" stroke="#111" stroke-width="0.12" letter-spacing="0.15">1.5 ft</text>
<text x="468.74" y="432.90" font-size="9.1" text-anchor="middle" fill="#111" stroke="#111" stroke-width="0.12" letter-spacing="0.15">9:40 am</text>
<circle cx="488.68" cy="92.27" r="1.75" fill="#000"/>
<text x="488.68" y="88.87" font-size="9.1" text-anchor="middle" fill="#111" stroke="#111" stroke-width="0.12" letter-spacing="0.15">3.81 m</text>
<text x="488.68" y="78.67" font-size="9.1" text-anchor="middle" fill="#111" stroke="#111" stroke-width="0.12" letter-spacing="0.15">12.5 ft</text>
<text x="488.68" y="70.57" font-size="9.1" text-anchor="middle" fill="#111" stroke="#111" stroke-width="0.12" letter-spacing="0.15">3:55 pm</text>
<circle cx="508.36" cy="413.07" r="1.75" fill="#000"/>
<text x="508.36" y="423.47" font-size="9.1" text-anchor="middle" fill="#111" stroke="#111" stroke-width="0.12" letter-spacing="0.15">0.34 m</text>
<text x="508.36" y="433.47" font-size="9.1" text-anchor="middle" fill="#111" stroke="#111" stroke-width="0.12" letter-spacing="0.15">1.1 ft</text>
<text x="508.36" y="443.07" font-size="9.1" text-anchor="middle" fill="#111" stroke="#111" stroke-width="0.12" letter-spacing="0.15">10:05 pm</text>
<circle cx="528.20" cy="102.43" r="1.75" fill="#000"/>
<text x="528.20" y="99.03" font-size="9.1" text-anchor="middle" fill="#111" stroke="#111" stroke-width="0.12" letter-spacing="0.15">3.70 m</text>
<text x="528.20" y="88.83" font-size="9.1" text-anchor="middle" fill="#111" stroke="#111" stroke-width="0.12" letter-spacing="0.15">12.1 ft</text>
<text x="528.20" y="80.73" font-size="9.1" text-anchor="middle" fill="#111" stroke="#111" stroke-width="0.12" letter-spacing="0.15">4:18 am</text>
<circle cx="547.50" cy="407.52" r="1.75" fill="#000"/>
<text x="547.50" y="417.92" font-size="9.1" text-anchor="middle" fill="#111" stroke="#111" stroke-width="0.12" letter-spacing="0.15">0.40 m</text>
<text x="547.50" y="427.92" font-size="9.1" text-anchor="middle" fill="#111" stroke="#111" stroke-width="0.12" letter-spacing="0.15">1.3 ft</text>
<text x="547.50" y="437.52" font-size="9.1" text-anchor="middle" fill="#111" stroke="#111" stroke-width="0.12" letter-spacing="0.15">10:21 am</text>
<circle cx="567.50" cy="90.42" r="1.75" fill="#000"/>
<text x="567.50" y="87.02" font-size="9.1" text-anchor="middle" fill="#111" stroke="#111" stroke-width="0.12" letter-spacing="0.15">3.83 m</text>
<text x="567.50" y="76.82" font-size="9.1" text-anchor="middle" fill="#111" stroke="#111" stroke-width="0.12" letter-spacing="0.15">12.6 ft</text>
<text x="567.50" y="68.72" font-size="9.1" text-anchor="middle" fill="#111" stroke="#111" stroke-width="0.12" letter-spacing="0.15">4:37 pm</text>
<circle cx="587.12" cy="412.14" r="1.75" fill="#000"/>
<text x="587.12" y="422.54" font-size="9.1" text-anchor="middle" fill="#111" stroke="#111" stroke-width="0.12" letter-spacing="0.15">0.35 m</text>
<text x="587.12" y="432.54" font-size="9.1" text-anchor="middle" fill="#111" stroke="#111" stroke-width="0.12" letter-spacing="0.15">1.1 ft</text>
<text x="587.12" y="442.14" font-size="9.1" text-anchor="middle" fill="#111" stroke="#111" stroke-width="0.12" letter-spacing="0.15">10:46 pm</text>
<circle cx="607.01" cy="103.36" r="1.75" fill="#000"/>
<text x="607.01" y="99.96" font-size="9.1" text-anchor="middle" fill="#111" stroke="#111" stroke-width="0.12" letter-spacing="0.15">3.69 m</text>
<text x="607.01" y="89.76" font-size="9.1" text-anchor="middle" fill="#111" stroke="#111" stroke-width="0.12" letter-spacing="0.15">12.1 ft</text>
<text x="607.01" y="81.66" font-size="9.1" text-anchor="middle" fill="#111" stroke="#111" stroke-width="0.12" letter-spacing="0.15">5:00 am</text>
<circle cx="626.37" cy="404.75" r="1.75" fill="#000"/>
<text x="626.37" y="415.15" font-size="9.1" text-anchor="middle" fill="#111" stroke="#111" stroke-width="0.12" letter-spacing="0.15">0.43 m</text>
<text x="626.37" y="425.15" font-size="9.1" text-anchor="middle" fill="#111" stroke="#111" stroke-width="0.12" letter-spacing="0.15">1.4 ft</text>
<text x="626.37" y="434.75" font-size="9.1" text-anchor="middle" fill="#111" stroke="#111" stroke-width="0.12" letter-spacing="0.15">11:04 am</text>
<circle cx="646.36" cy="97.81" r="1.75" fill="#000"/>
<text x="646.36" y="94.41" font-size="9.1" text-anchor="middle" fill="#111" stroke="#111" stroke-width="0.12" letter-spacing="0.15">3.75 m</text>
<text x="646.36" y="84.21" font-size="9.1" text-anchor="middle" fill="#111" stroke="#111" stroke-width="0.12" letter-spacing="0.15">12.3 ft</text>
<text x="646.36" y="76.11" font-size="9.1" text-anchor="middle" fill="#111" stroke="#111" stroke-width="0.12" letter-spacing="0.15">5:20 pm</text>
<circle cx="665.99" cy="402.90" r="1.75" fill="#000"/>
<text x="665.99" y="413.30" font-size="9.1" text-anchor="middle" fill="#111" stroke="#111" stroke-width="0.12" letter-spacing="0.15">0.45 m</text>
<text x="665.99" y="423.30" font-size="9.1" text-anchor="middle" fill="#111" stroke="#111" stroke-width="0.12" letter-spacing="0.15">1.5 ft</text>
<text x="665.99" y="432.90" font-size="9.1" text-anchor="middle" fill="#111" stroke="#111" stroke-width="0.12" letter-spacing="0.15">11:29 pm</text>
<circle cx="685.93" cy="111.68" r="1.75" fill="#000"/>
<text x="685.93" y="108.28" font-size="9.1" text-anchor="middle" fill="#111" stroke="#111" stroke-width="0.12" letter-spacing="0.15">3.60 m</text>
<text x="685.93" y="98.08" font-size="9.1" text-anchor="middle" fill="#111" stroke="#111" stroke-width="0.12" letter-spacing="0.15">11.8 ft</text>
<text x="685.93" y="89.98" font-size="9.1" text-anchor="middle" fill="#111" stroke="#111" stroke-width="0.12" letter-spacing="0.15">5:44 am</text>
<path d="M398.4,272.8 L403.1,280.7 L393.9,280.7 Z" fill="#c8c83a" stroke="#7a5a2a" stroke-width="0.9" stroke-dasharray="1.2,0.8"/>
<text x="46" y="478.6" font-size="11" text-anchor="end" fill="#222">Sunrise</text>
<text x="747" y="478.6" font-size="11" fill="#222">Sunrise</text>
<text x="46" y="492.2" font-size="11" text-anchor="end" fill="#222">Sunset</text>
<text x="747" y="492.2" font-size="11" fill="#222">Sunset</text>
<text x="46" y="506" font-size="11" text-anchor="end" fill="#222">Moonrise</text>
<text x="747" y="506" font-size="11" fill="#222">Moonrise</text>
<text x="46" y="519.5" font-size="11" text-anchor="end" fill="#222">Moonset</text>
<text x="747" y="519.5" font-size="11" fill="#222">Moonset</text>
<polygon points="154.82,467.50 156.35,472.60 161.67,472.48 157.29,475.50 159.05,480.52 154.82,477.30 150.59,480.52 152.35,475.50 147.97,472.48 153.29,472.60" fill="#8a6a22"/><polygon points="154.82,470.20 159.10,473.31 157.46,478.34 152.17,478.34 150.54,473.31" fill="#cccc33" stroke="#8a6a22" stroke-width="1" stroke-linejoin="round"/>
<text x="161.32" y="478" font-size="9.6" fill="#222">7:17am</text>
<polygon points="231.45,467.50 232.98,472.60 238.30,472.48 233.92,475.50 235.68,480.52 231.45,477.30 227.22,480.52 228.98,475.50 224.60,472.48 229.92,472.60" fill="#8a6a22"/><polygon points="231.45,470.20 235.73,473.31 234.10,478.34 228.81,478.34 227.17,473.31" fill="#cccc33" stroke="#8a6a22" stroke-width="1" stroke-linejoin="round"/>
<text x="237.95" y="478" font-size="9.6" fill="#222">7:18am</text>
<polygon points="308.03,467.50 309.56,472.60 314.88,472.48 310.50,475.50 312.26,480.52 308.03,477.30 303.80,480.52 305.56,475.50 301.18,472.48 306.50,472.60" fill="#8a6a22"/><polygon points="308.03,470.20 312.31,473.31 310.68,478.34 305.39,478.34 303.75,473.31" fill="#cccc33" stroke="#8a6a22" stroke-width="1" stroke-linejoin="round"/>
<text x="314.53" y="478" font-size="9.6" fill="#222">7:18am</text>
<polygon points="384.66,467.50 386.19,472.60 391.51,472.48 387.14,475.50 388.89,480.52 384.66,477.30 380.43,480.52 382.19,475.50 377.82,472.48 383.13,472.60" fill="#8a6a22"/><polygon points="384.66,470.20 388.94,473.31 387.31,478.34 382.02,478.34 380.38,473.31" fill="#cccc33" stroke="#8a6a22" stroke-width="1" stroke-linejoin="round"/>
<text x="391.16" y="478" font-size="9.6" fill="#222">7:19am</text>
<polygon points="461.30,467.50 462.82,472.60 468.14,472.48 463.77,475.50 465.53,480.52 461.30,477.30 457.06,480.52 458.82,475.50 454.45,472.48 459.77,472.60" fill="#8a6a22"/><polygon points="461.30,470.20 465.57,473.31 463.94,478.34 458.65,478.34 457.02,473.31" fill="#cccc33" stroke="#8a6a22" stroke-width="1" stroke-linejoin="round"/>
<text x="467.80" y="478" font-size="9.6" fill="#222">7:20am</text>
<polygon points="537.93,467.50 539.46,472.60 544.78,472.48 540.40,475.50 542.16,480.52 537.93,477.30 533.70,480.52 535.45,475.50 531.08,472.48 536.40,472.60" fill="#8a6a22"/><polygon points="537.93,470.20 542.21,473.31 540.57,478.34 535.28,478.34 533.65,473.31" fill="#cccc33" stroke="#8a6a22" stroke-width="1" stroke-linejoin="round"/>
<text x="544.43" y="478" font-size="9.6" fill="#222">7:21am</text>
<polygon points="614.56,467.50 616.09,472.60 621.41,472.48 617.03,475.50 618.79,480.52 614.56,477.30 610.33,480.52 612.09,475.50 607.71,472.48 613.03,472.60" fill="#8a6a22"/><polygon points="614.56,470.20 618.84,473.31 617.20,478.34 611.91,478.34 610.28,473.31" fill="#cccc33" stroke="#8a6a22" stroke-width="1" stroke-linejoin="round"/>
<text x="621.06" y="478" font-size="9.6" fill="#222">7:22am</text>
<polygon points="691.19,467.50 692.72,472.60 698.04,472.48 693.67,475.50 695.42,480.52 691.19,477.30 686.96,480.52 688.72,475.50 684.34,472.48 689.66,472.60" fill="#8a6a22"/><polygon points="691.19,470.20 695.47,473.31 693.84,478.34 688.55,478.34 686.91,473.31" fill="#cccc33" stroke="#8a6a22" stroke-width="1" stroke-linejoin="round"/>
<text x="697.69" y="478" font-size="9.6" fill="#222">7:23am</text>
<polygon points="118.28,480.90 119.81,486.00 125.13,485.88 120.76,488.90 122.52,493.92 118.28,490.70 114.05,493.92 115.81,488.90 111.44,485.88 116.76,486.00" fill="#8a6a22"/><polygon points="118.28,483.60 122.56,486.71 120.93,491.74 115.64,491.74 114.00,486.71" fill="#c07050" stroke="#8a6a22" stroke-width="1" stroke-linejoin="round"/>
<text x="124.78" y="491.6" font-size="9.6" fill="#222">7:50pm</text>
<polygon points="194.76,480.90 196.29,486.00 201.60,485.88 197.23,488.90 198.99,493.92 194.76,490.70 190.52,493.92 192.28,488.90 187.91,485.88 193.23,486.00" fill="#8a6a22"/><polygon points="194.76,483.60 199.04,486.71 197.40,491.74 192.11,491.74 190.48,486.71" fill="#c07050" stroke="#8a6a22" stroke-width="1" stroke-linejoin="round"/>
<text x="201.26" y="491.6" font-size="9.6" fill="#222">7:48pm</text>
<polygon points="271.28,480.90 272.81,486.00 278.13,485.88 273.76,488.90 275.52,493.92 271.28,490.70 267.05,493.92 268.81,488.90 264.44,485.88 269.75,486.00" fill="#8a6a22"/><polygon points="271.28,483.60 275.56,486.71 273.93,491.74 268.64,491.74 267.00,486.71" fill="#c07050" stroke="#8a6a22" stroke-width="1" stroke-linejoin="round"/>
<text x="277.78" y="491.6" font-size="9.6" fill="#222">7:47pm</text>
<polygon points="347.76,480.90 349.28,486.00 354.60,485.88 350.23,488.90 351.99,493.92 347.76,490.70 343.52,493.92 345.28,488.90 340.91,485.88 346.23,486.00" fill="#8a6a22"/><polygon points="347.76,483.60 352.04,486.71 350.40,491.74 345.11,491.74 343.48,486.71" fill="#c07050" stroke="#8a6a22" stroke-width="1" stroke-linejoin="round"/>
<text x="354.26" y="491.6" font-size="9.6" fill="#222">7:45pm</text>
<polygon points="424.23,480.90 425.76,486.00 431.08,485.88 426.70,488.90 428.46,493.92 424.23,490.70 420.00,493.92 421.76,488.90 417.38,485.88 422.70,486.00" fill="#8a6a22"/><polygon points="424.23,483.60 428.51,486.71 426.87,491.74 421.58,491.74 419.95,486.71" fill="#c07050" stroke="#8a6a22" stroke-width="1" stroke-linejoin="round"/>
<text x="430.73" y="491.6" font-size="9.6" fill="#222">7:43pm</text>
<polygon points="500.75,480.90 502.28,486.00 507.60,485.88 503.23,488.90 504.99,493.92 500.75,490.70 496.52,493.92 498.28,488.90 493.91,485.88 499.23,486.00" fill="#8a6a22"/><polygon points="500.75,483.60 505.03,486.71 503.40,491.74 498.11,491.74 496.48,486.71" fill="#c07050" stroke="#8a6a22" stroke-width="1" stroke-linejoin="round"/>
<text x="507.25" y="491.6" font-size="9.6" fill="#222">7:42pm</text>
<polygon points="577.23,480.90 578.76,486.00 584.08,485.88 579.70,488.90 581.46,493.92 577.23,490.70 573.00,493.92 574.75,488.90 570.38,485.88 575.70,486.00" fill="#8a6a22"/><polygon points="577.23,483.60 581.51,486.71 579.87,491.74 574.58,491.74 572.95,486.71" fill="#c07050" stroke="#8a6a22" stroke-width="1" stroke-linejoin="round"/>
<text x="583.73" y="491.6" font-size="9.6" fill="#222">7:40pm</text>
<polygon points="653.70,480.90 655.23,486.00 660.55,485.88 656.17,488.90 657.93,493.92 653.70,490.70 649.47,493.92 651.23,488.90 646.85,485.88 652.17,486.00" fill="#8a6a22"/><polygon points="653.70,483.60 657.98,486.71 656.35,491.74 651.06,491.74 649.42,486.71" fill="#c07050" stroke="#8a6a22" stroke-width="1" stroke-linejoin="round"/>
<text x="660.20" y="491.6" font-size="9.6" fill="#222">7:38pm</text>
<circle cx="109.30" cy="502" r="4.9" fill="#ffffcc" stroke="#9c9c84" stroke-width="1"/>
<text x="116.10" y="506.5" font-size="9.6" fill="#222">5:01pm</text>
<circle cx="188.22" cy="502" r="4.9" fill="#ffffcc" stroke="#9c9c84" stroke-width="1"/>
<text x="195.02" y="506.5" font-size="9.6" fill="#222">5:45pm</text>
<circle cx="267.03" cy="502" r="4.9" fill="#ffffcc" stroke="#9c9c84" stroke-width="1"/>
<text x="273.83" y="506.5" font-size="9.6" fill="#222">6:27pm</text>
<circle cx="345.68" cy="502" r="4.9" fill="#ffffcc" stroke="#9c9c84" stroke-width="1"/>
<text x="352.48" y="506.5" font-size="9.6" fill="#222">7:06pm</text>
<circle cx="424.28" cy="502" r="4.9" fill="#ffffcc" stroke="#9c9c84" stroke-width="1"/>
<text x="431.08" y="506.5" font-size="9.6" fill="#222">7:44pm</text>
<circle cx="502.88" cy="502" r="4.9" fill="#ffffcc" stroke="#9c9c84" stroke-width="1"/>
<text x="509.68" y="506.5" font-size="9.6" fill="#222">8:22pm</text>
<circle cx="581.48" cy="502" r="4.9" fill="#ffffcc" stroke="#9c9c84" stroke-width="1"/>
<text x="588.28" y="506.5" font-size="9.6" fill="#222">9:00pm</text>
<circle cx="660.24" cy="502" r="4.9" fill="#ffffcc" stroke="#9c9c84" stroke-width="1"/>
<text x="667.04" y="506.5" font-size="9.6" fill="#222">9:41pm</text>
<circle cx="142.64" cy="515.4" r="4.9" fill="#ccc8b0" stroke="#8c8c7c" stroke-width="1"/>
<text x="149.44" y="518.8" font-size="9.6" fill="#222">3:28am</text>
<circle cx="222.52" cy="515.4" r="4.9" fill="#ccc8b0" stroke="#8c8c7c" stroke-width="1"/>
<text x="229.32" y="518.8" font-size="9.6" fill="#222">4:30am</text>
<circle cx="302.61" cy="515.4" r="4.9" fill="#ccc8b0" stroke="#8c8c7c" stroke-width="1"/>
<text x="309.41" y="518.8" font-size="9.6" fill="#222">5:36am</text>
<circle cx="382.85" cy="515.4" r="4.9" fill="#ccc8b0" stroke="#8c8c7c" stroke-width="1"/>
<text x="389.65" y="518.8" font-size="9.6" fill="#222">6:45am</text>
<circle cx="463.16" cy="515.4" r="4.9" fill="#ccc8b0" stroke="#8c8c7c" stroke-width="1"/>
<text x="469.96" y="518.8" font-size="9.6" fill="#222">7:55am</text>
<circle cx="543.51" cy="515.4" r="4.9" fill="#ccc8b0" stroke="#8c8c7c" stroke-width="1"/>
<text x="550.31" y="518.8" font-size="9.6" fill="#222">9:06am</text>
<circle cx="623.87" cy="515.4" r="4.9" fill="#ccc8b0" stroke="#8c8c7c" stroke-width="1"/>
<text x="630.67" y="518.8" font-size="9.6" fill="#222">10:17am</text>
<text x="420.5" y="532.9" font-size="9.2" text-anchor="middle" fill="#222">Full Moon | 8:07pm</text>
</svg>
</body></html>
